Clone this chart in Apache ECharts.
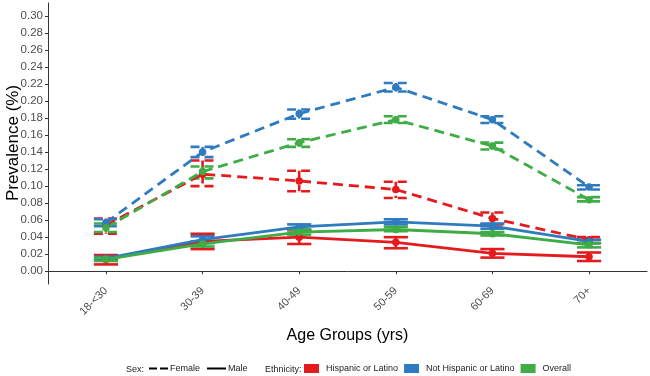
<!DOCTYPE html>
<html>
<head>
<meta charset="utf-8">
<script src="https://cdn.jsdelivr.net/npm/echarts@6/dist/echarts.min.js"></script>
<style>
  html, body { margin: 0; padding: 0; background: #fff; }
  #chart { width: 650px; height: 376px; }
</style>
</head>
<body>
<div id="chart"></div>
<script>
var ageGroups = ['18-<30', '30-39', '40-49', '50-59', '60-69', '70+'];
var yTicks = [0, 0.02, 0.04, 0.06, 0.08, 0.10, 0.12, 0.14, 0.16, 0.18, 0.20, 0.22, 0.24, 0.26, 0.28, 0.30];

// Female
var hispF    = [0.054, 0.114, 0.106, 0.096, 0.062, 0.037];
var hispFLo  = [0.044, 0.100, 0.094, 0.086, 0.055, 0.033];
var hispFHi  = [0.062, 0.130, 0.118, 0.105, 0.069, 0.040];
var nonHispF   = [0.057, 0.140, 0.185, 0.216, 0.178, 0.099];
var nonHispFLo = [0.053, 0.134, 0.179, 0.211, 0.174, 0.096];
var nonHispFHi = [0.061, 0.146, 0.190, 0.221, 0.182, 0.101];
var overallF   = [0.051, 0.117, 0.151, 0.178, 0.147, 0.084];
var overallFLo = [0.046, 0.109, 0.146, 0.174, 0.143, 0.082];
var overallFHi = [0.056, 0.123, 0.155, 0.182, 0.151, 0.087];

// Male
var hispM    = [0.014, 0.035, 0.040, 0.034, 0.021, 0.017];
var hispMLo  = [0.008, 0.026, 0.032, 0.027, 0.016, 0.012];
var hispMHi  = [0.019, 0.044, 0.048, 0.040, 0.026, 0.022];
var nonHispM   = [0.015, 0.037, 0.052, 0.058, 0.053, 0.035];
var nonHispMLo = [0.013, 0.033, 0.049, 0.055, 0.050, 0.033];
var nonHispMHi = [0.017, 0.041, 0.055, 0.061, 0.056, 0.037];
var overallM   = [0.014, 0.032, 0.046, 0.049, 0.044, 0.031];
var overallMLo = [0.012, 0.029, 0.043, 0.047, 0.042, 0.028];
var overallMHi = [0.016, 0.035, 0.049, 0.052, 0.046, 0.033];

(function(){
	var myChart = echarts.init(document.getElementById('chart'));
	var RED = '#E41A1C', BLUE = '#2F7BBF', GREEN = '#3EAD45';
	var DASH = [10, 6];

	function pts(vals) {
		return vals.map(function (v, i) { return [i + 1, v]; });
	}
	function bars(lo, hi) {
		return lo.map(function (v, i) { return [i + 1, v, hi[i]]; });
	}

	function lineSeries(name, color, vals, dashed) {
		return {
			name: name,
			type: 'line',
			data: pts(vals),
			symbol: 'circle',
			symbolSize: 7.5,
			itemStyle: { color: color },
			lineStyle: { color: color, width: 2.8, type: dashed ? DASH : 'solid' },
			z: 3
		};
	}

	function errSeries(name, color, lo, hi, dashed) {
		return {
			name: name,
			type: 'custom',
			data: bars(lo, hi),
			z: 2,
			renderItem: function (params, api) {
				var x = api.value(0);
				var top = api.coord([x, api.value(2)]);
				var bot = api.coord([x, api.value(1)]);
				var hw = api.size([0.125, 0])[0];
				var st = { stroke: color, lineWidth: 2.6, lineDash: dashed ? [9, 5] : null, fill: null };
				return {
					type: 'group',
					children: [
						{ type: 'line', shape: { x1: top[0], y1: top[1], x2: bot[0], y2: bot[1] }, style: st },
						{ type: 'line', shape: { x1: top[0] - hw, y1: top[1], x2: top[0] + hw, y2: top[1] }, style: st },
						{ type: 'line', shape: { x1: bot[0] - hw, y1: bot[1], x2: bot[0] + hw, y2: bot[1] }, style: st }
					]
				};
			}
		};
	}

	var option = {
		animation: false,
		textStyle: { fontFamily: 'Liberation Sans, Arial, sans-serif' },
		title: [
			{ text: 'Sex:', left: 121, top: 360, textStyle: { fontSize: 9, fontWeight: 'normal', color: '#222' } },
			{ text: 'Ethnicity:', left: 260, top: 360, textStyle: { fontSize: 9, fontWeight: 'normal', color: '#222' } }
		],
		// y axis title, drawn as rotated text beside the labels
		graphic: [
			{
				type: 'text',
				x: 13,
				y: 143,
				rotation: Math.PI / 2,
				style: {
					text: 'Prevalence (%)',
					font: '17px Liberation Sans, Arial, sans-serif',
					fill: '#000',
					align: 'center',
					verticalAlign: 'middle'
				}
			}
		],
		legend: [
			{
				data: [
					{ name: 'Female', itemStyle: { opacity: 0 } },
					{ name: 'Male', itemStyle: { opacity: 0 } }
				],
				left: 143,
				top: 359,
				itemWidth: 19,
				itemHeight: 10,
				itemGap: 6,
				textStyle: { fontSize: 9, color: '#222', padding: [0, 0, 0, -3] }
			},
			{
				data: [
					{ name: 'Hispanic or Latino', icon: 'rect', itemStyle: { color: RED } },
					{ name: 'Not Hispanic or Latino', icon: 'rect', itemStyle: { color: BLUE } },
					{ name: 'Overall', icon: 'rect', itemStyle: { color: GREEN } }
				],
				left: 299,
				top: 359,
				itemWidth: 15,
				itemHeight: 9,
				itemGap: 6,
				textStyle: { fontSize: 9, color: '#222', padding: [0, 0, 0, 2] }
			}
		],
		grid: { left: 48, right: 3, top: 3, bottom: 92, outerBoundsMode: 'none' },
		xAxis: {
			type: 'value',
			min: 0.4,
			max: 6.6,
			name: 'Age Groups (yrs)',
			nameLocation: 'middle',
			nameGap: 44,
			nameTextStyle: { fontSize: 16, color: '#000' },
			splitLine: { show: false },
			axisLine: { show: true, lineStyle: { color: '#333', width: 1 } },
			axisTick: { show: true, length: 3, customValues: [1, 2, 3, 4, 5, 6], lineStyle: { color: '#333' } },
			axisLabel: {
				rotate: 45,
				fontSize: 11,
				color: '#4d4d4d',
				margin: 5,
				customValues: [1, 2, 3, 4, 5, 6],
				formatter: function (v) { return ageGroups[Math.round(v) - 1]; }
			}
		},
		yAxis: {
			type: 'value',
			min: -0.015,
			max: 0.315,
			splitLine: { show: false },
			axisLine: { show: true, lineStyle: { color: '#333', width: 1 } },
			axisTick: { show: true, length: 3, customValues: yTicks, lineStyle: { color: '#333' } },
			axisLabel: {
				fontSize: 11.5,
				color: '#4d4d4d',
				margin: 5,
				customValues: yTicks,
				formatter: function (v) { return v.toFixed(2); }
			}
		},
		series: [
			{ name: 'Female', type: 'line', data: [], symbol: 'none', itemStyle: { color: '#000' }, lineStyle: { color: '#000', width: 2.5, type: [8, 3] } },
			{ name: 'Male', type: 'line', data: [], symbol: 'none', itemStyle: { color: '#000' }, lineStyle: { color: '#000', width: 2.5 } },
			errSeries('Hispanic or Latino', RED, hispFLo, hispFHi, true),
			errSeries('Hispanic or Latino', RED, hispMLo, hispMHi, false),
			lineSeries('Hispanic or Latino', RED, hispF, true),
			lineSeries('Hispanic or Latino', RED, hispM, false),
			errSeries('Not Hispanic or Latino', BLUE, nonHispFLo, nonHispFHi, true),
			errSeries('Not Hispanic or Latino', BLUE, nonHispMLo, nonHispMHi, false),
			lineSeries('Not Hispanic or Latino', BLUE, nonHispF, true),
			lineSeries('Not Hispanic or Latino', BLUE, nonHispM, false),
			errSeries('Overall', GREEN, overallFLo, overallFHi, true),
			errSeries('Overall', GREEN, overallMLo, overallMHi, false),
			lineSeries('Overall', GREEN, overallF, true),
			lineSeries('Overall', GREEN, overallM, false)
		]
	};
	myChart.setOption(option);
	window.addEventListener("resize", function() {
		myChart.resize();
	});
})();
</script>
</body>
</html>
